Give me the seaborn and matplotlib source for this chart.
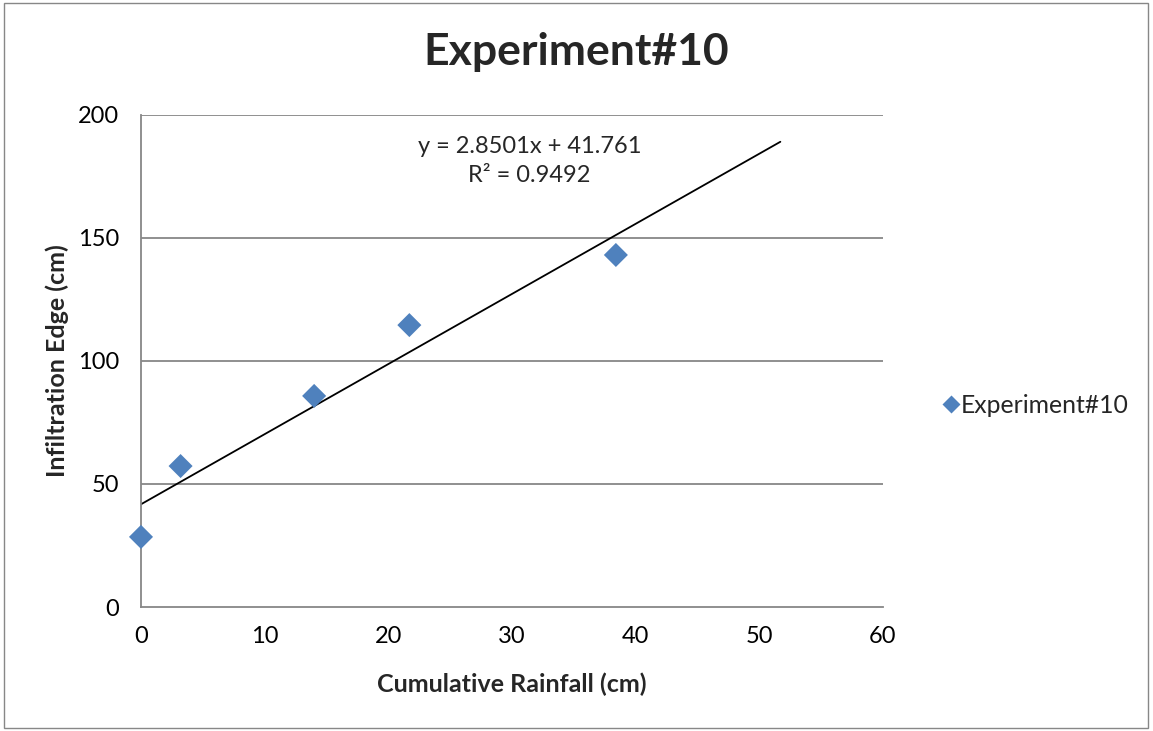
import numpy as np
import pandas as pd
import matplotlib
matplotlib.use('Agg')
import matplotlib.pyplot as plt
from matplotlib.patches import Rectangle
import seaborn as sns

# ─── Données ────────────────────────────────────────────────────────────────
rainfall = [0.0, 3.2, 14.0, 21.7, 38.4]
infiltration = [28.5, 57.3, 85.8, 114.6, 143.1]
series_name = "Experiment#10"
slope, intercept = 2.8501, 41.761
trend_x = [0.0, 51.7]
equation = "y = 2.8501x + 41.761\nR² = 0.9492"
x_ticks = [0, 10, 20, 30, 40, 50, 60]
y_ticks = [0, 50, 100, 150, 200]

df = pd.DataFrame({"Cumulative Rainfall (cm)": rainfall,
                   "Infiltration Edge (cm)": infiltration,
                   "serie": series_name})

# ─── Style ──────────────────────────────────────────────────────────────────
sns.set_style("white")
plt.rcParams['font.family'] = ['Lato', 'DejaVu Sans']
GRID = '#878787'
BLUE = '#4F81BD'

fig = plt.figure(figsize=(11.53, 7.31), dpi=100)
ax = fig.add_axes([141/1153, 1 - 607/731, (883-141)/1153, (607-115)/731])

for y in y_ticks[1:]:
    ax.axhline(y, color=GRID, linewidth=1.3, zorder=0)

tx = np.array(trend_x)
ax.plot(tx, slope * tx + intercept, color='black', linewidth=1.3, zorder=2)

sns.scatterplot(data=df, x="Cumulative Rainfall (cm)", y="Infiltration Edge (cm)",
                hue="serie", palette=[BLUE], marker='D', s=150,
                edgecolor='none', zorder=3, ax=ax, clip_on=False)

ax.set_xlim(0, 60)
ax.set_ylim(0, 200)
ax.set_xticks(x_ticks)
ax.set_yticks(y_ticks)
ax.tick_params(axis='both', length=0, labelsize=17, colors='black')
ax.tick_params(axis='x', pad=14)
ax.tick_params(axis='y', pad=16)
for s in ['top', 'right']:
    ax.spines[s].set_visible(False)
for s in ['left', 'bottom']:
    ax.spines[s].set_color(GRID)
    ax.spines[s].set_linewidth(1.3)

ax.set_xlabel("Cumulative Rainfall (cm)", fontsize=18, fontweight='bold', labelpad=18)
ax.set_ylabel("Infiltration Edge (cm)", fontsize=18, fontweight='bold', labelpad=6)

ax.text(31.4, 181.3, equation, ha='center', va='center', fontsize=17, linespacing=1.5)

fig.text(0.5, 1 - 52/731, series_name, ha='center', va='center',
         fontsize=32, fontweight='bold')

leg = ax.legend(loc='center left', bbox_to_anchor=(1.028, 0.41), frameon=False,
                fontsize=17.8, handletextpad=-0.6, markerscale=0.75)
leg.set_title(None)

fig.patches.append(Rectangle((4/1153, 3/731), 1144/1153, 725/731, transform=fig.transFigure,
                             fill=False, edgecolor=GRID, linewidth=1.0))

plt.savefig("out.png", dpi=100)
plt.close()
